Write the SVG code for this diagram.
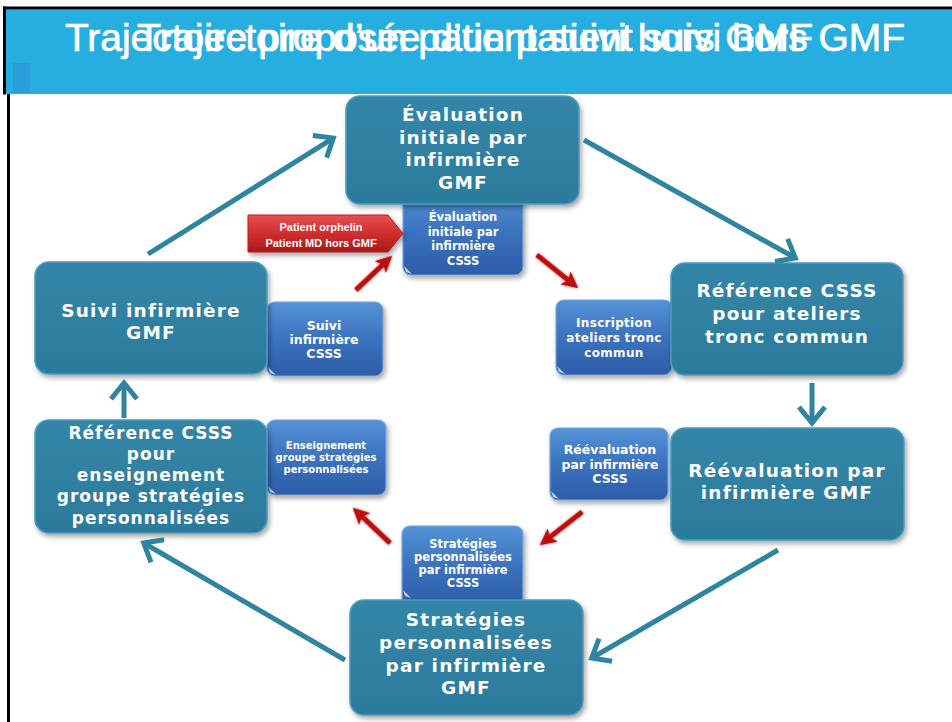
<svg xmlns="http://www.w3.org/2000/svg" width="952" height="722" viewBox="0 0 952 722">
<defs>
<style>
.big{font-family:"DejaVu Sans",Verdana,sans-serif;font-weight:bold;fill:#fff;text-anchor:middle;font-size:18.5px;letter-spacing:1.2px}
.big17{font-size:17px;letter-spacing:1px}
.sm{font-family:"DejaVu Sans",Verdana,sans-serif;font-weight:bold;fill:#fff;text-anchor:middle;font-size:12px}
.bbox{fill:url(#gTeal);stroke:#4B9CBD;stroke-width:1.5;filter:url(#sh)}
.sbox{fill:url(#gBlue);stroke:#78A6DC;stroke-width:1.2;filter:url(#sh)}
.curl{fill:#C9DBF3;opacity:0.9}
.tconn{stroke:#2F84A2;stroke-width:5;fill:none;marker-end:url(#tHead)}
.rconn{stroke:#BF0A0A;stroke-width:4.5;fill:none;marker-end:url(#rHead);filter:url(#glow)}
.title{font-family:"Liberation Sans",Arial,sans-serif;font-size:38px;fill:#fff;stroke:#fff;stroke-width:0.7}
.lbl{font-family:"Liberation Sans",Arial,sans-serif;font-weight:bold;font-size:11px;fill:#fff;text-anchor:middle}
</style>
<linearGradient id="gTeal" x1="0" y1="0" x2="0" y2="1">
<stop offset="0" stop-color="#3386A8"/>
<stop offset="1" stop-color="#2C7A9C"/>
</linearGradient>
<linearGradient id="gBlue" x1="0" y1="0" x2="0" y2="1">
<stop offset="0" stop-color="#5592D6"/>
<stop offset="0.5" stop-color="#3B72BE"/>
<stop offset="1" stop-color="#2D5DA8"/>
</linearGradient>
<linearGradient id="gRed" x1="0" y1="0" x2="0" y2="1">
<stop offset="0" stop-color="#E65050"/>
<stop offset="0.5" stop-color="#D02E2E"/>
<stop offset="1" stop-color="#A81A1A"/>
</linearGradient>
<filter id="sh" x="-10%" y="-10%" width="130%" height="140%">
<feDropShadow dx="2" dy="3" stdDeviation="2.5" flood-color="#000" flood-opacity="0.35"/>
</filter>
<filter id="glow" x="-30%" y="-30%" width="160%" height="160%">
<feGaussianBlur in="SourceGraphic" stdDeviation="1.3" result="b"/>
<feMerge><feMergeNode in="b"/><feMergeNode in="SourceGraphic"/></feMerge>
</filter>
<marker id="tHead" markerUnits="userSpaceOnUse" viewBox="-22 -18 26 36" refX="0" refY="0" markerWidth="26" markerHeight="36" orient="auto" overflow="visible">
<path d="M-16,-13 L0,0 L-16,13" fill="none" stroke="#2F84A2" stroke-width="5"/>
</marker>
<marker id="rHead" markerUnits="userSpaceOnUse" viewBox="0 0 16 16" refX="6" refY="8" markerWidth="16" markerHeight="16" orient="auto" overflow="visible">
<path d="M0,0 L16,8 L0,16 L4,8 Z" fill="#BF0A0A"/>
</marker>
</defs>

<rect x="0" y="0" width="952" height="722" fill="#fff"/>
<!-- header -->
<rect x="5" y="9" width="947" height="85" fill="#25AEDF"/>
<rect x="3" y="6.5" width="949" height="2.8" fill="#000"/>
<rect x="3" y="6.5" width="3" height="88" fill="#000"/>
<rect x="7" y="94" width="3" height="628" fill="#000"/>
<rect x="13" y="63" width="17" height="30" fill="#2A9EDA"/>
<text class="title" x="65" y="51" textLength="840" lengthAdjust="spacingAndGlyphs">Trajectoire proposée d’un patient suivi hors GMF</text>
<text class="title" x="137" y="51" textLength="676" lengthAdjust="spacingAndGlyphs">Trajectoire d’un patient suivi hors GMF</text>

<!-- small CSSS nodes -->
<g id="eval-csss">
<rect class="sbox" x="403" y="190" width="120" height="85" rx="8"/>
<path class="curl" d="M404,266 L412,274 L406,272 Z"/>
<text class="sm" style="font-size:11.5px"><tspan x="463" y="221">Évaluation</tspan><tspan x="463" y="235.5">initiale par</tspan><tspan x="463" y="250">infirmière</tspan><tspan x="463" y="264.5">CSSS</tspan></text>
</g>
<g id="suivi-csss">
<rect class="sbox" x="267" y="302" width="116" height="74" rx="8"/>
<path class="curl" d="M268,367 L276,375 L270,373 Z"/>
<text class="sm" style="font-size:12.5px"><tspan x="324" y="330">Suivi</tspan><tspan x="324" y="344">infirmière</tspan><tspan x="324" y="358">CSSS</tspan></text>
</g>
<g id="inscription-csss">
<rect class="sbox" x="556" y="300" width="116" height="75" rx="8"/>
<path class="curl" d="M557,366 L565,374 L559,372 Z"/>
<text class="sm" style="letter-spacing:0.3px"><tspan x="614" y="327">Inscription</tspan><tspan x="614" y="342">ateliers tronc</tspan><tspan x="614" y="357">commun</tspan></text>
</g>
<g id="enseignement-csss">
<rect class="sbox" x="267" y="420" width="119" height="75" rx="8"/>
<path class="curl" d="M268,486 L276,494 L270,492 Z"/>
<text class="sm" style="font-size:10px"><tspan x="326" y="449">Enseignement</tspan><tspan x="326" y="461">groupe stratégies</tspan><tspan x="326" y="473">personnalisées</tspan></text>
</g>
<g id="reeval-csss">
<rect class="sbox" x="550" y="428" width="118" height="72" rx="8"/>
<path class="curl" d="M551,491 L559,499 L553,497 Z"/>
<text class="sm" style="font-size:12.5px"><tspan x="610" y="454">Réévaluation</tspan><tspan x="610" y="469">par infirmière</tspan><tspan x="610" y="483">CSSS</tspan></text>
</g>
<g id="strategies-csss">
<rect class="sbox" x="402" y="526" width="121" height="80" rx="8"/>
<path class="curl" d="M403,590 L411,598 L405,596 Z"/>
<text class="sm" style="font-size:11.5px"><tspan x="463" y="548">Stratégies</tspan><tspan x="463" y="561">personnalisées</tspan><tspan x="463" y="574">par infirmière</tspan><tspan x="463" y="587">CSSS</tspan></text>
</g>

<!-- big GMF nodes -->
<g id="eval-gmf">
<rect class="bbox" x="346" y="96" width="233" height="108" rx="14"/>
<text class="big"><tspan x="463" y="121">Évaluation</tspan><tspan x="463" y="143.5">initiale par</tspan><tspan x="463" y="166">infirmière</tspan><tspan x="463" y="189">GMF</tspan></text>
</g>
<g id="ref-ateliers">
<rect class="bbox" x="671" y="263" width="232" height="112" rx="14"/>
<text class="big"><tspan x="787" y="297">Référence CSSS</tspan><tspan x="787" y="320">pour ateliers</tspan><tspan x="787" y="343">tronc commun</tspan></text>
</g>
<g id="reeval-gmf">
<rect class="bbox" x="671" y="428" width="233" height="112" rx="14"/>
<text class="big"><tspan x="787" y="477">Réévaluation par</tspan><tspan x="787" y="499">infirmière GMF</tspan></text>
</g>
<g id="strategies-gmf">
<rect class="bbox" x="350" y="600" width="233" height="115" rx="14"/>
<text class="big"><tspan x="466" y="626">Stratégies</tspan><tspan x="466" y="649">personnalisées</tspan><tspan x="466" y="672">par infirmière</tspan><tspan x="466" y="694">GMF</tspan></text>
</g>
<g id="ref-enseignement">
<rect class="bbox" x="35" y="420" width="232" height="113" rx="14"/>
<text class="big big17"><tspan x="151" y="439">Référence CSSS</tspan><tspan x="151" y="460">pour</tspan><tspan x="151" y="481">enseignement</tspan><tspan x="151" y="502">groupe stratégies</tspan><tspan x="151" y="524">personnalisées</tspan></text>
</g>
<g id="suivi-gmf">
<rect class="bbox" x="35" y="262" width="232" height="112" rx="14"/>
<text class="big"><tspan x="151" y="317">Suivi infirmière</tspan><tspan x="151" y="339">GMF</tspan></text>
</g>

<!-- red label -->
<g id="patient-label">
<polygon points="248,215 388,215 403,233.5 388,252 248,252" fill="url(#gRed)" stroke="#B52222" stroke-width="1" filter="url(#sh)"/>
<text class="lbl"><tspan x="321" y="231">Patient orphelin</tspan><tspan x="321" y="246.5">Patient MD hors GMF</tspan></text>
</g>

<!-- connectors -->
<g id="connectors">
<line class="tconn" x1="148" y1="254" x2="333.3" y2="138.1"/>
<line class="tconn" x1="584" y1="140" x2="795.3" y2="258"/>
<line class="tconn" x1="812" y1="383" x2="812" y2="423"/>
<line class="tconn" x1="778" y1="550" x2="591.7" y2="658"/>
<line class="tconn" x1="345" y1="660" x2="143.7" y2="543"/>
<line class="tconn" x1="124" y1="418" x2="124" y2="383"/>

<line class="rconn" x1="356" y1="290" x2="384.7" y2="262.9"/>
<line class="rconn" x1="537" y1="255" x2="570.2" y2="281.7"/>
<line class="rconn" x1="625" y1="383" x2="625" y2="406"/>
<line class="rconn" x1="582" y1="512" x2="547.9" y2="538.8"/>
<line class="rconn" x1="390" y1="543" x2="360.3" y2="514.9"/>
<line class="rconn" x1="316" y1="412" x2="316" y2="396"/>
</g>
</svg>
